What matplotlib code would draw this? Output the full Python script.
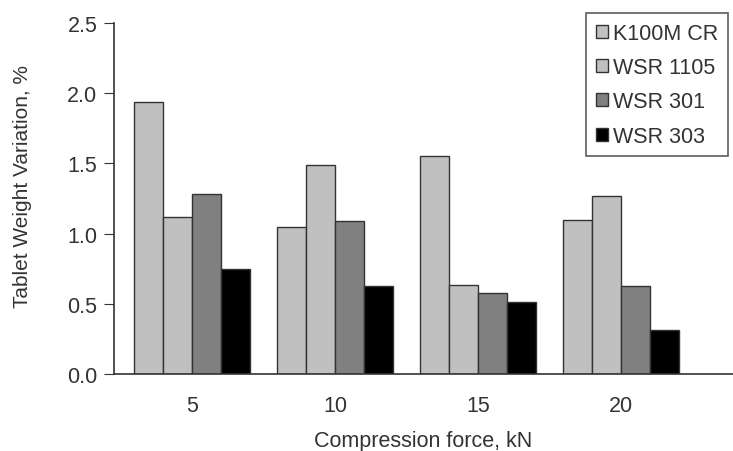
import numpy as np
import matplotlib.pyplot as plt

plt.rcParams['font.family'] = 'Liberation Sans'
plt.rcParams['font.size'] = 15.5

forces = ['5', '10', '15', '20']
series = ['K100M CR', 'WSR 1105', 'WSR 301', 'WSR 303']
k100m = [1.94, 1.05, 1.555, 1.095]
wsr1105 = [1.12, 1.49, 0.632, 1.268]
wsr301 = [1.28, 1.09, 0.58, 0.627]
wsr303 = [0.745, 0.627, 0.515, 0.316]
colors = ['#c0c0c0', '#c0c0c0', '#808080', '#000000']

fig = plt.figure(figsize=(7.33, 4.52), dpi=100)
ax = fig.add_axes([0.1555, 0.1704, 0.8445, 0.7765])

x = np.arange(len(forces))
w = 0.203
for j, (vals, c, name) in enumerate(zip([k100m, wsr1105, wsr301, wsr303], colors, series)):
    ax.bar(x + (j - 1.5) * w, vals, w, color=c, edgecolor='#333333', linewidth=1, label=name)

ax.set_xlim(-0.545, 3.783)
ax.set_ylim(0, 2.5)
ax.set_yticks([0, 0.5, 1.0, 1.5, 2.0, 2.5])
ax.set_yticklabels(['0.0', '0.5', '1.0', '1.5', '2.0', '2.5'], color='#333333')
ax.set_xticks(x)
ax.set_xticklabels(forces, color='#333333')
ax.tick_params(axis='x', length=0, pad=15)
ax.tick_params(axis='y', length=7, pad=5, direction='out', color='#333333')
for s in ['top', 'right']:
    ax.spines[s].set_visible(False)
for s in ['left', 'bottom']:
    ax.spines[s].set_color('#333333')
    ax.spines[s].set_linewidth(1.2)

ax.set_ylabel('Tablet Weight Variation, %', color='#333333', fontsize=15)
ax.yaxis.set_label_coords(-0.1325, 0.537)
ax.set_xlabel('Compression force, kN', color='#333333', labelpad=10)

leg = ax.legend(loc='upper right', bbox_to_anchor=(728 / 733, 1 - 14 / 452),
                bbox_transform=fig.transFigure, frameon=True, fancybox=False,
                edgecolor='#333333', handlelength=0.55, handleheight=0.55,
                handletextpad=0.25, labelspacing=0.62, borderpad=0.45,
                borderaxespad=0, fontsize=15.5)
leg.get_frame().set_linewidth(1.2)
for t in leg.get_texts():
    t.set_color('#333333')

fig.savefig('out.png', dpi=100)
